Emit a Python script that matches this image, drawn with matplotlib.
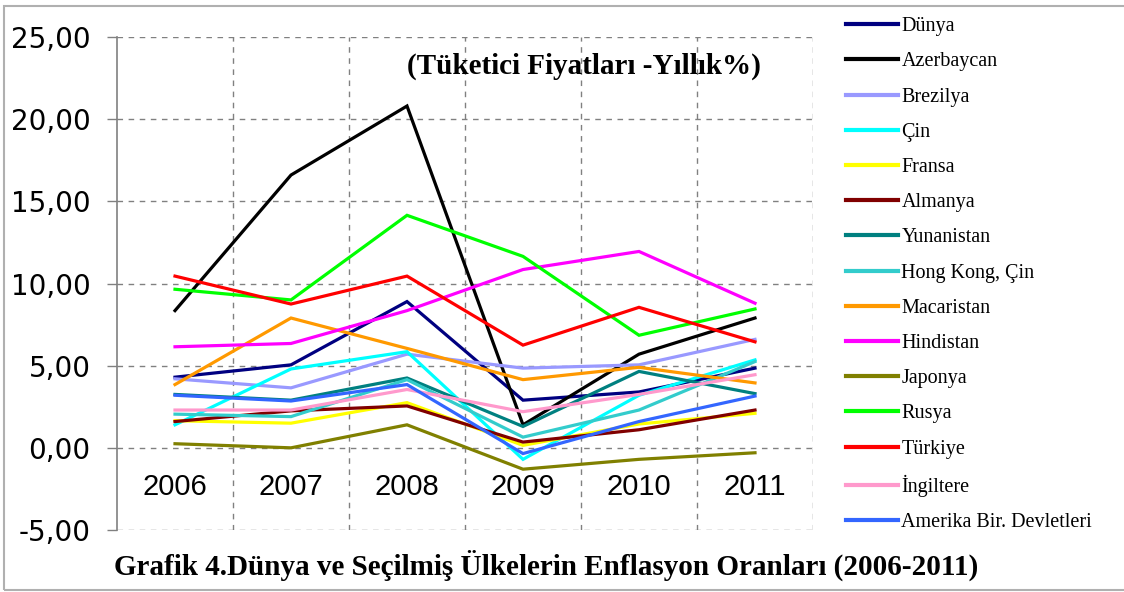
import matplotlib.pyplot as plt
from matplotlib.ticker import FixedLocator, FuncFormatter
from matplotlib.lines import Line2D

# Veriler (okunan değerler, %)
yillar = ['2006', '2007', '2008', '2009', '2010', '2011']

ulkeler = ['Dünya', 'Azerbaycan', 'Brezilya', 'Çin', 'Fransa', 'Almanya',
           'Yunanistan', 'Hong Kong, Çin', 'Macaristan', 'Hindistan',
           'Japonya', 'Rusya', 'Türkiye', 'İngiltere', 'Amerika Bir. Devletleri']

dunya = [4.3, 5.05, 8.9, 2.9, 3.4, 4.85]
azerbaycan = [8.35, 16.6, 20.8, 1.4, 5.7, 7.9]
brezilya = [4.2, 3.65, 5.7, 4.85, 5.05, 6.6]
cin = [1.4, 4.8, 5.85, -0.7, 3.2, 5.35]
fransa = [1.65, 1.5, 2.75, 0.15, 1.45, 2.1]
almanya = [1.6, 2.25, 2.55, 0.35, 1.1, 2.3]
yunanistan = [3.25, 2.9, 4.25, 1.3, 4.65, 3.3]
hong_kong = [2.05, 1.9, 4.15, 0.65, 2.3, 5.25]
macaristan = [3.85, 7.9, 6.05, 4.15, 4.9, 3.95]
hindistan = [6.15, 6.35, 8.35, 10.85, 11.95, 8.8]
japonya = [0.25, 0.0, 1.4, -1.3, -0.7, -0.3]
rusya = [9.65, 9.0, 14.15, 11.65, 6.85, 8.45]
turkiye = [10.45, 8.75, 10.45, 6.25, 8.55, 6.45]
ingiltere = [2.3, 2.3, 3.55, 2.2, 3.25, 4.45]
abd = [3.2, 2.85, 3.85, -0.35, 1.6, 3.15]

seriler = [dunya, azerbaycan, brezilya, cin, fransa, almanya, yunanistan,
           hong_kong, macaristan, hindistan, japonya, rusya, turkiye,
           ingiltere, abd]

renkler = ['#000080', '#000000', '#9999ff', '#00ffff', '#ffff00', '#800000',
           '#008080', '#33cccc', '#ff9900', '#ff00ff', '#808000', '#00ff00',
           '#ff0000', '#ff99cc', '#3366ff']

y_ticks = [-5, 0, 5, 10, 15, 20, 25]

fig = plt.figure(figsize=(11.24, 5.92), dpi=100)
ax = fig.add_axes([117 / 1124, 1 - 530 / 592, 696 / 1124, 493 / 592])

x = list(range(len(yillar)))
for veri, renk, ad in zip(seriler, renkler, ulkeler):
    ax.plot(x, veri, color=renk, lw=2.3, label=ad, solid_joinstyle='miter')

ax.set_xlim(-0.5, len(yillar) - 0.5)
ax.set_ylim(-5, 25)

# ızgara: yatay her 5'te, dikey kategoriler arasında
ax.yaxis.set_major_locator(FixedLocator(y_ticks))
ax.yaxis.set_major_formatter(FuncFormatter(lambda v, p: f'{v:.2f}'.replace('.', ',')))
ax.xaxis.set_major_locator(FixedLocator([]))
ax.xaxis.set_minor_locator(FixedLocator([i + 0.5 for i in x]))
ax.grid(True, axis='y', which='major', color='#808080', ls=(0, (4, 4)), lw=1)
ax.grid(True, axis='x', which='minor', color='#808080', ls=(0, (4, 4)), lw=1)
ax.tick_params(axis='x', which='both', length=0, labelbottom=False)
ax.tick_params(axis='y', length=7, width=1, color='#808080', pad=12,
               labelsize=20, labelcolor='black')
for lbl in ax.get_yticklabels():
    lbl.set_family('DejaVu Sans')

for s in ['top', 'right', 'bottom']:
    ax.spines[s].set_visible(False)
ax.spines['left'].set_color('#808080')
ax.spines['left'].set_linewidth(1.2)

# yıl etiketleri grafiğin içinde
for i, yil in enumerate(yillar):
    ax.text(i, -2.4, yil, ha='center', va='center', fontsize=21,
            family='Liberation Sans')

fig.text(584 / 1124, 1 - 66 / 592, '(Tüketici Fiyatları -Yıllık%)',
         ha='center', va='center', fontsize=21, fontweight='bold',
         family='Liberation Serif')

fig.text(546 / 1124, 1 - 565 / 592,
         'Grafik 4.Dünya ve Seçilmiş Ülkelerin Enflasyon Oranları (2006-2011)',
         ha='center', va='center', fontsize=21, fontweight='bold',
         family='Liberation Serif')

# lejant
tutucular = [Line2D([0], [0], color=r, lw=3) for r in renkler]
fig.legend(tutucular, ulkeler, loc='upper left',
           bbox_to_anchor=(838 / 1124, 1 - 9 / 592), frameon=False,
           prop={'family': 'Liberation Serif', 'size': 14.5},
           handlelength=2.6, handletextpad=0.15, labelspacing=0.8,
           borderaxespad=0)

# dış çerçeve
fig.add_artist(plt.Rectangle((4 / 1124, 2 / 592), 1.0, 1 - 8 / 592,
                             transform=fig.transFigure, fill=False,
                             edgecolor='#b0b0b0', lw=1.5))

fig.savefig('out.png', dpi=100)
